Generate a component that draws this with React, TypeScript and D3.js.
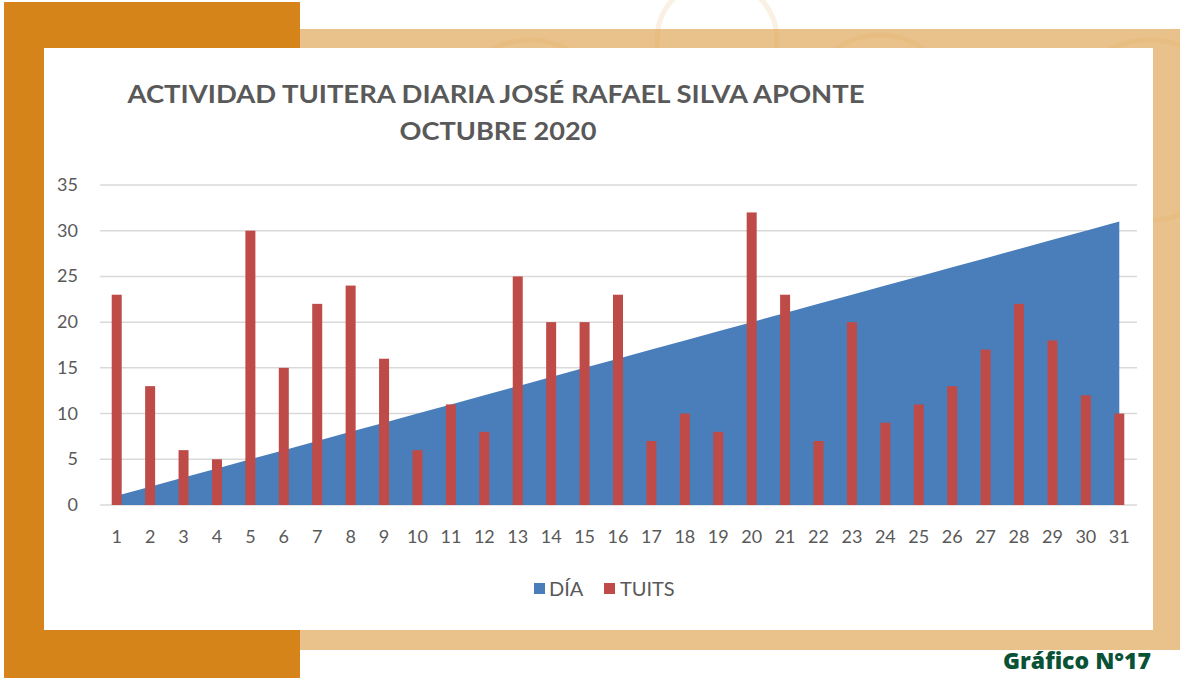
import React from 'react';
import * as d3 from 'd3';

// Daily tweet activity, October 2020
const days = d3.range(1, 32).map(String);
const diaValues = d3.range(1, 32);
const tuitsValues = [
  23, 13, 6, 5, 30, 15, 22, 24, 16, 6, 11, 8, 25, 20, 20, 23,
  7, 10, 8, 32, 23, 7, 20, 9, 11, 13, 17, 22, 18, 12, 10,
];
const yTicks = [0, 5, 10, 15, 20, 25, 30, 35];
const titleLines = ['ACTIVIDAD TUITERA DIARIA JOSÉ RAFAEL SILVA APONTE', 'OCTUBRE 2020'];
const legendItems = [
  { label: 'DÍA', color: '#4A7EBB' },
  { label: 'TUITS', color: '#BE4B48' },
];

// decorative faint rings behind the frame
const rings = [
  { cx: 717, cy: 40, r: 60 },
  { cx: 530, cy: 120, r: 80 },
  { cx: 880, cy: 110, r: 75 },
  { cx: 1150, cy: 130, r: 90 },
];

const W = 1180;
const H = 678;
const GRAY = '#595959';
const FONT = 'Lato, "Open Sans", sans-serif';

const App: React.FC = () => {
  const x = d3.scaleBand<string>().domain(days).range([100, 1136]);
  const y = d3.scaleLinear().domain([0, 35]).range([505, 185]);
  const cx = (d: string) => (x(d) ?? 0) + x.bandwidth() / 2;
  const barW = 10;

  const area = d3.area<number>()
    .x((_, i) => cx(days[i]))
    .y0(y(0))
    .y1(v => y(v));

  return (
    <svg width={W} height={H} style={{ position: 'absolute', left: 0, top: 0 }}>
      <rect width={W} height={H} fill="#ffffff" />

      {/* frames */}
      <rect x={300} y={29} width={W - 300} height={621} fill="#E9C28B" />
      <g fill="none" stroke="#E2A95A" strokeWidth={5} opacity={0.16}>
        {rings.map((c, i) => <circle key={i} cx={c.cx} cy={c.cy} r={c.r} />)}
      </g>
      <rect x={4} y={2} width={296} height={676} fill="#D5841A" />
      <rect x={44} y={48} width={1109} height={582} fill="#ffffff" />

      {/* title */}
      <text x={496} y={103} textAnchor="middle" fontFamily={FONT} fontWeight={700}
        fontSize={25} fill={GRAY} textLength={737} lengthAdjust="spacingAndGlyphs">
        {titleLines[0]}
      </text>
      <text x={498} y={140} textAnchor="middle" fontFamily={FONT} fontWeight={700}
        fontSize={25} fill={GRAY} textLength={197} lengthAdjust="spacingAndGlyphs">
        {titleLines[1]}
      </text>

      {/* gridlines */}
      <g>
        {yTicks.map(t => (
          <line key={t} x1={100} x2={1137} y1={y(t)} y2={y(t)} stroke="#D9D9D9" strokeWidth={1.5} />
        ))}
      </g>
      <g fontFamily={FONT} fontSize={18} fill={GRAY} textAnchor="end">
        {yTicks.map(t => (
          <text key={t} x={78} y={y(t) + 6}>{t}</text>
        ))}
      </g>

      {/* DÍA area */}
      <path d={area(diaValues) ?? ''} fill={legendItems[0].color} />

      {/* TUITS bars */}
      <g fill={legendItems[1].color}>
        {tuitsValues.map((v, i) => (
          <rect key={i} x={cx(days[i]) - barW / 2} y={y(v)} width={barW} height={y(0) - y(v)} />
        ))}
      </g>

      {/* x labels */}
      <g fontFamily={FONT} fontSize={18} fill={GRAY} textAnchor="middle">
        {days.map(d => (
          <text key={d} x={cx(d)} y={543}>{d}</text>
        ))}
      </g>

      {/* legend */}
      <g fontFamily={FONT} fontSize={20} fill={GRAY}>
        <rect x={534} y={583} width={11} height={11} fill={legendItems[0].color} />
        <text x={549} y={596}>{legendItems[0].label}</text>
        <rect x={604} y={583} width={11} height={11} fill={legendItems[1].color} />
        <text x={620} y={596}>{legendItems[1].label}</text>
      </g>

      <text x={1003} y={669} fontFamily='"Open Sans", sans-serif' fontWeight={800}
        fontSize={23} fill="#0A5236">Gráfico N°17</text>
    </svg>
  );
};

export default App;
